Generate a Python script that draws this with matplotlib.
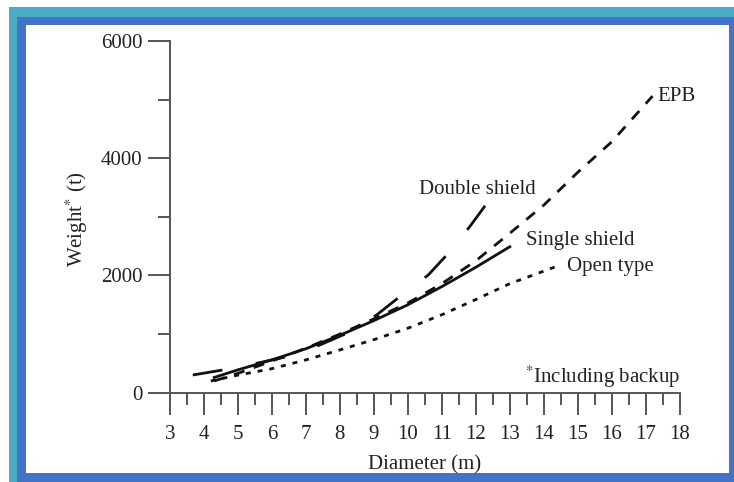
import matplotlib
matplotlib.use("Agg")
import matplotlib.pyplot as plt
from matplotlib.patches import Rectangle
from matplotlib.ticker import MultipleLocator

plt.rcParams['font.family'] = ['Liberation Serif', 'DejaVu Serif']
plt.rcParams['mathtext.fontset'] = 'stix'
plt.rcParams['lines.scale_dashes'] = False

# ---- data ----
epb_d = [4.3, 5, 6, 7, 8, 9, 10, 11, 12, 13, 14, 15, 16, 17.2]
epb_w = [200, 330, 540, 760, 1000, 1260, 1530, 1860, 2250, 2720, 3200, 3760, 4280, 5060]

single_d = [4.3, 5, 6, 7, 8, 9, 10, 11, 12, 13]
single_w = [260, 390, 560, 750, 980, 1230, 1500, 1810, 2140, 2490]

open_d = [4.2, 5, 6, 7, 8, 9, 10, 11, 12, 13, 14.4]
open_w = [200, 300, 410, 560, 730, 905, 1100, 1330, 1590, 1860, 2160]

double_d = [3.67, 4.55, 5.55, 6.43, 7.41, 8.2, 9.08, 9.76, 10.6, 11.19, 11.82, 12.36]
double_w = [302, 387, 502, 614, 814, 1013, 1326, 1638, 2008, 2378, 2832, 3258]

x_ticks = list(range(3, 19))
y_ticks = [0, 2000, 4000, 6000]

W, H = 734, 482
fig = plt.figure(figsize=(W / 100, H / 100), dpi=100)
fig.patch.set_facecolor('white')

def px_rect(x0, y0, x1, y1, color):
    r = Rectangle((x0 / W, 1 - y1 / H), (x1 - x0) / W, (y1 - y0) / H,
                  transform=fig.transFigure, facecolor=color, edgecolor='none', zorder=-10)
    fig.add_artist(r)

px_rect(9.4, 7.3, 734, 482, '#4BACC6')
px_rect(17.3, 16.7, 734, 482, '#4472C4')
px_rect(25.7, 25, 729.4, 472.7, 'white')

left, right = 170 / W, 679.7 / W
bottom, top = 1 - 392.7 / H, 1 - 41 / H
ax = fig.add_axes([left, bottom, right - left, top - bottom])
ax.patch.set_alpha(0)

line_col = '#111111'
lw = 2.0
ax.plot(epb_d, epb_w, color=line_col, lw=lw, linestyle=(0, (8, 7)), dash_capstyle='butt')
ax.plot(single_d, single_w, color=line_col, lw=lw)
ax.plot(open_d, open_w, color=line_col, lw=lw, linestyle=(0, (3.6, 5)), dash_capstyle='butt')
ax.plot(double_d, double_w, color=line_col, lw=lw, linestyle=(0, (21.6, 24.5)), dash_capstyle='butt')

ax.set_xlim(3, 18)
ax.set_ylim(0, 6000)
for s in ['top', 'right']:
    ax.spines[s].set_visible(False)
spine_col = '#555555'
for s in ['left', 'bottom']:
    ax.spines[s].set_color(spine_col)
    ax.spines[s].set_linewidth(1.4)

txt_col = '#222222'
fs = 15
ax.set_xticks(x_ticks)
ax.set_yticks(y_ticks)
ax.xaxis.set_minor_locator(MultipleLocator(0.5))
ax.yaxis.set_minor_locator(MultipleLocator(1000))
ax.tick_params(axis='both', which='major', length=16, width=1.4, color=spine_col,
               labelsize=fs, labelcolor=txt_col)
ax.tick_params(axis='both', which='minor', length=8.6, width=1.4, color=spine_col)
ax.tick_params(axis='x', which='major', pad=7)
ax.tick_params(axis='y', which='major', pad=4)

ax.text(17.35, 5061, 'EPB', ha='left', va='center', fontsize=fs, color=txt_col)
ax.text(12.06, 3470, 'Double shield', ha='center', va='center', fontsize=fs, color=txt_col)
ax.text(13.49, 2593, 'Single shield', ha='left', va='center', fontsize=fs, color=txt_col)
ax.text(14.67, 2150, 'Open type', ha='left', va='center', fontsize=fs, color=txt_col)
ax.text(18.0, 273, r'$^{*}$Including backup', ha='right', va='center', fontsize=fs, color=txt_col)

fig.text(425 / W, 1 - 465 / H, 'Diameter (m)', ha='center', va='center', fontsize=fs, color=txt_col)
fig.text(77 / W, 1 - 219 / H, r'Weight$^{*}$ (t)', ha='center', va='center', rotation=90,
         fontsize=fs, color=txt_col)

fig.savefig('out.png', dpi=100)
